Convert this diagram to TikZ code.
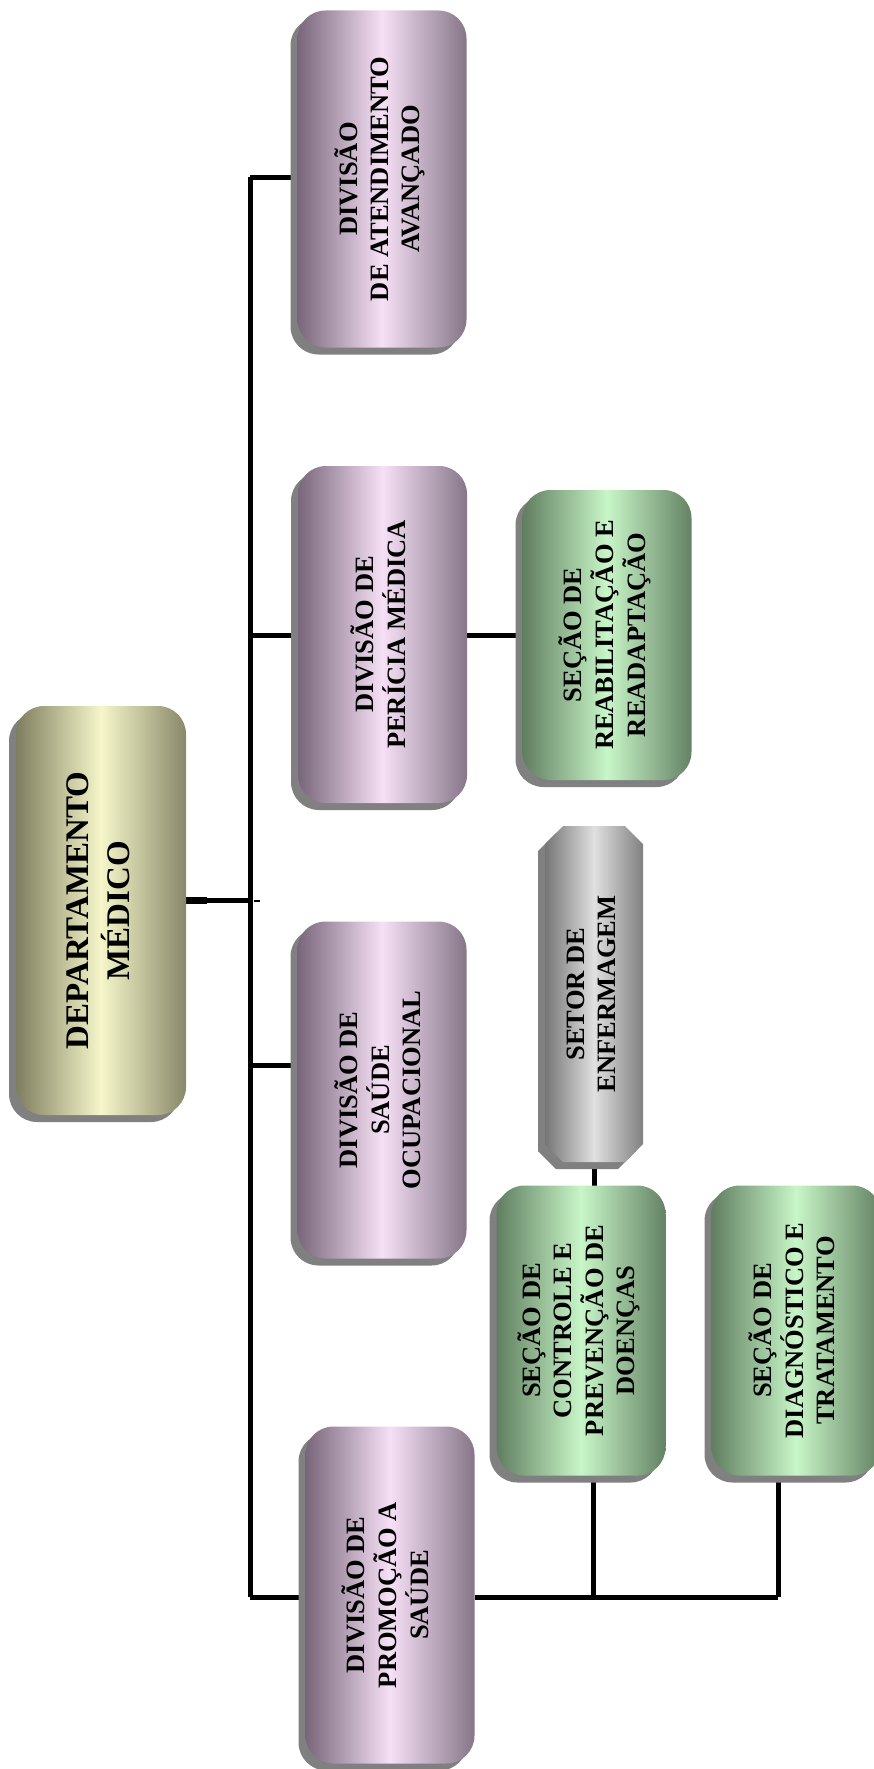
\documentclass[tikz,border=0pt]{standalone}
\usepackage{fontspec}
\usepackage{graphicx}
\setmainfont{Liberation Serif}
\usetikzlibrary{shadows,shapes.misc}

\definecolor{purpleL}{RGB}{120,102,122}
\definecolor{purpleM}{RGB}{246,224,246}
\definecolor{purpleR}{RGB}{134,118,136}
\definecolor{greenL}{RGB}{96,126,96}
\definecolor{greenM}{RGB}{200,246,200}
\definecolor{greenR}{RGB}{100,130,100}
\definecolor{oliveL}{RGB}{126,126,96}
\definecolor{oliveM}{RGB}{246,246,202}
\definecolor{oliveR}{RGB}{136,136,106}
\definecolor{greyL}{RGB}{118,118,118}
\definecolor{greyM}{RGB}{224,224,224}
\definecolor{greyR}{RGB}{128,128,128}
\definecolor{shadowgray}{RGB}{128,128,128}

\newcommand{\boxlines}[1]{\rotatebox{90}{\begin{tabular}{@{}c@{}}#1\end{tabular}}}

\tikzset{
  unit/.style={inner sep=0pt, draw=none,
    drop shadow={shadow xshift=-7pt, shadow yshift=-7pt, fill=shadowgray, opacity=1},
    font=\bfseries\fontsize{26.5}{31}\selectfont, text=black},
  roundunit/.style={unit, rounded corners=28pt},
  deptbox/.style={roundunit, minimum width=170pt, minimum height=409pt,
    left color=oliveL, right color=oliveR, middle color=oliveM,
    font=\bfseries\fontsize{33}{40}\selectfont},
  divbox/.style={roundunit, minimum width=169pt, minimum height=337pt,
    left color=purpleL, right color=purpleR, middle color=purpleM},
  secbox/.style={roundunit, minimum width=169pt, minimum height=290pt,
    left color=greenL, right color=greenR, middle color=greenM},
  setorbox/.style={unit, shape=chamfered rectangle, chamfered rectangle sep=9pt,
    minimum width=98pt, minimum height=336pt,
    left color=greyL, right color=greyR, middle color=greyM},
  link/.style={line width=5pt, black},
}

\begin{document}
\begin{tikzpicture}[x=1pt, y=-1pt]
  \useasboundingbox (0,0) rectangle (874,1769);
  \clip (0,0) rectangle (874,1769);

  % junction points on the trunk and the lower bus
  \coordinate (jDept) at (250,900);
  \coordinate (jTop) at (250,177);
  \coordinate (jPer) at (250,635);
  \coordinate (jOcu) at (250,1065);
  \coordinate (jBot) at (250,1597);
  \coordinate (bCtl) at (593,1597);
  \coordinate (bDia) at (778,1597);
  \coordinate (stubEnd) at (207,900);
  \coordinate (tickA) at (254,901);
  \coordinate (tickB) at (260,901);

  % connectors first, so that the boxes cover their ends
  \draw[link] (jTop) -- (jBot);
  \draw[link] (jTop) -- (298,177);
  \draw[link] (jPer) -- (298,635);
  \draw[link] (jOcu) -- (298,1065);
  \draw[link] (jBot) -- (305,1597);
  \draw[link] (stubEnd) -- (jDept);
  \draw[line width=7pt] (186,900) -- (stubEnd);
  \draw[line width=2pt] (tickA) -- (tickB);
  \draw[link] (475,1597) -- (bDia);
  \draw[link] (bCtl) -- (593,1475);
  \draw[link] (bDia) -- (778,1475);
  \draw[link] (594,1162) -- (594,1186);
  \draw[link] (467,635) -- (522,635);

  % boxes
  \node[deptbox] (dept) at (101,910.5) {\boxlines{DEPARTAMENTO\\MÉDICO}};

  \node[divbox] (atend) at (382,179) {\boxlines{DIVISÃO\\DE ATENDIMENTO\\AVANÇADO}};
  \node[divbox] (pericia) at (382.5,634.5) {\boxlines{DIVISÃO DE\\PERÍCIA MÉDICA}};
  \node[divbox] (ocup) at (382,1090) {\boxlines{DIVISÃO DE\\SAÚDE\\OCUPACIONAL}};
  \node[divbox] (promo) at (390,1595) {\boxlines{DIVISÃO DE\\PROMOÇÃO A\\SAÚDE}};

  \node[secbox] (reab) at (607,635) {\boxlines{SEÇÃO DE\\REABILITAÇÃO E\\READAPTAÇÃO}};
  \node[setorbox] (enferm) at (594,994) {\boxlines{SETOR DE\\ENFERMAGEM}};
  \node[secbox] (ctrl) at (581,1330.5) {\boxlines{SEÇÃO DE\\CONTROLE E\\PREVENÇÃO DE\\DOENÇAS}};
  \node[secbox] (diag) at (796,1330.5) {\boxlines{SEÇÃO DE\\DIAGNÓSTICO E\\TRATAMENTO}};
\end{tikzpicture}
\end{document}
